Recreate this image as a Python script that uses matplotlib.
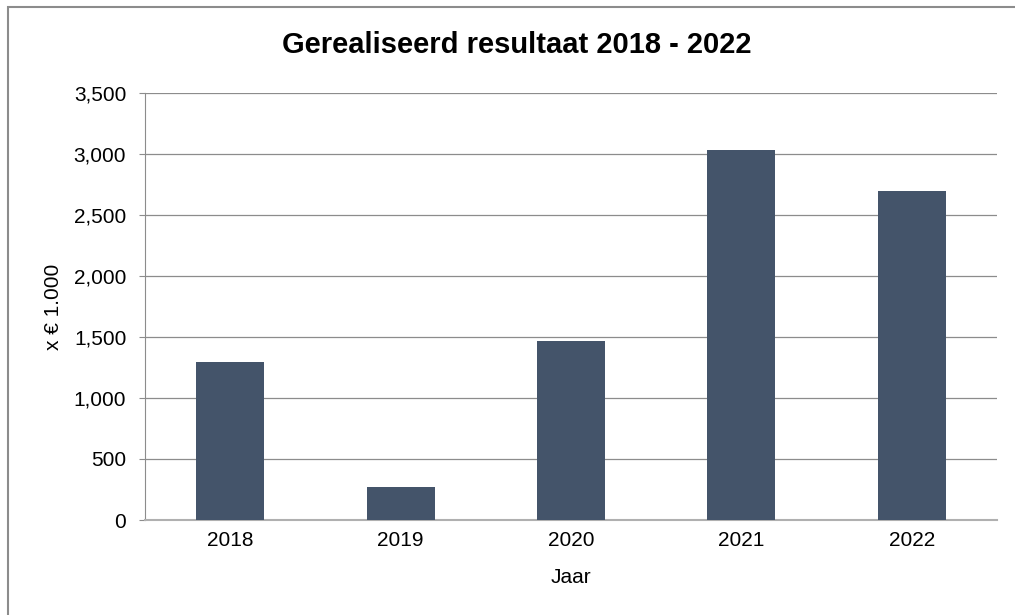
import matplotlib
matplotlib.use("Agg")
import matplotlib.pyplot as plt
from matplotlib.patches import Rectangle
from matplotlib.ticker import FuncFormatter

years = ["2018", "2019", "2020", "2021", "2022"]
resultaat = [1295, 273, 1465, 3032, 2697]

plt.rcParams["font.family"] = ["Liberation Sans", "DejaVu Sans"]

fig = plt.figure(figsize=(10.15, 6.15), dpi=100)
ax = fig.add_axes([145 / 1015, 1 - 520 / 615, 852 / 1015, 427 / 615])

x = range(len(years))
ax.bar(x, resultaat, width=0.4, color="#44546A", zorder=3)

ax.set_xlim(-0.5, len(years) - 0.5)
ax.set_ylim(0, 3500)
ax.set_yticks(range(0, 3501, 500))
ax.yaxis.set_major_formatter(FuncFormatter(lambda v, _: f"{int(v):,}"))
ax.set_xticks(list(x))
ax.set_xticklabels(years)

ax.grid(axis="y", color="#8C8C8C", linewidth=0.9, zorder=0)
for side in ("top", "right"):
    ax.spines[side].set_visible(False)
ax.spines["left"].set_color("#8C8C8C")
ax.spines["bottom"].set_color("#B0B0B0")
ax.spines["bottom"].set_linewidth(1.5)
ax.tick_params(axis="y", length=4.5, color="#8C8C8C", labelsize=15, pad=9)
ax.tick_params(axis="x", length=0, labelsize=15, pad=8)

ax.set_xlabel("Jaar", fontsize=15, labelpad=13)
ax.set_ylabel("x € 1.000", fontsize=15, labelpad=8)
fig.text(517 / 1015, 1 - 45 / 615, "Gerealiseerd resultaat 2018 - 2022",
         ha="center", va="center", fontsize=21, fontweight="bold")

# outer frame, only top and left edges fall inside the image
fig.patches.append(Rectangle((7.5 / 1015, -0.1), 1.2, 1 - 6.5 / 615 + 0.1,
                             transform=fig.transFigure, fill=False,
                             edgecolor="#8C8C8C", linewidth=1.5))

fig.savefig("out.png", dpi=100)
